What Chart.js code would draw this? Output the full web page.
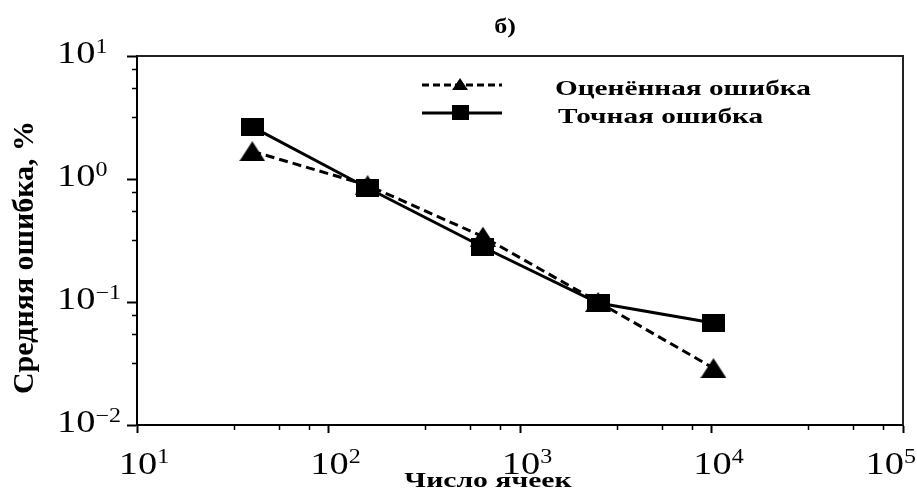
<!DOCTYPE html>
<html>
<head>
<meta charset="utf-8">
<script src="https://cdn.jsdelivr.net/npm/chart.js@4"></script>
<style>
  html, body { margin: 0; padding: 0; background: #fff; }
  canvas { display: block; }
</style>
</head>
<body>
<canvas id="myChart" width="917" height="500"></canvas>
<script>
// data
const cells = [40, 160, 640, 2560, 10240];
const estimatedError = [1.68, 0.89, 0.34, 0.1, 0.029];
const exactError = [2.65, 0.845, 0.28, 0.098, 0.0675];

const seriesLabels = ['Оценённая ошибка', 'Точная ошибка'];
const chartTitle = 'б)';
const xTitle = 'Число ячеек';
const yTitle = 'Средняя ошибка, %';

const xTickValues = [10, 100, 1000, 10000, 100000];
const xTickLabels = ['10^1', '10^2', '10^3', '10^4', '10^5'];
const yTickValues = [0.01, 0.1, 1, 10];
const yTickLabels = ['10^\u22122', '10^\u22121', '10^0', '10^1'];
const minorSteps = [3.2, 5.5, 7.9];

const SERIF = "'Liberation Serif', 'Times New Roman', serif";

function squareMarker(w, h) {
  const c = document.createElement('canvas');
  c.width = w;
  c.height = h;
  const g = c.getContext('2d');
  g.fillStyle = '#000';
  g.fillRect(0, 0, w, h);
  return c;
}

function triangleMarker(w, h) {
  const c = document.createElement('canvas');
  c.width = w;
  c.height = h;
  const g = c.getContext('2d');
  g.fillStyle = '#000';
  g.beginPath();
  g.moveTo(w / 2, 0);
  g.lineTo(w, h);
  g.lineTo(0, h);
  g.closePath();
  g.fill();
  return c;
}

const squareImg = squareMarker(23, 18);
const triangleImg = triangleMarker(26, 20);

// text is a bit wide in the original, so draw it stretched horizontally
function wideText(ctx, text, x, y, font, sx, align) {
  ctx.save();
  ctx.font = font;
  const w = ctx.measureText(text).width * sx;
  let left = x;
  if (align === 'center') left = x - w / 2;
  else if (align === 'right') left = x - w;
  ctx.translate(left, y);
  ctx.scale(sx, 1);
  ctx.textAlign = 'left';
  ctx.textBaseline = 'alphabetic';
  ctx.fillStyle = '#000';
  ctx.fillText(text, 0, 0);
  ctx.restore();
  return w;
}

function textWidth(ctx, text, font, sx) {
  ctx.save();
  ctx.font = font;
  const w = ctx.measureText(text).width * sx;
  ctx.restore();
  return w;
}

const baseFont = '32px ' + SERIF;
const expFont = '20px ' + SERIF;
const tickSx = 1.2;

const decorations = {
  id: 'decorations',
  afterDraw(chart) {
    const ctx = chart.ctx;
    const area = chart.chartArea;
    const xs = chart.scales.x;
    const ys = chart.scales.y;

    // frame top/right
    ctx.save();
    ctx.strokeStyle = '#222';
    ctx.lineWidth = 2;
    ctx.beginPath();
    ctx.moveTo(area.left, area.top);
    ctx.lineTo(area.right, area.top);
    ctx.lineTo(area.right, area.bottom);
    ctx.stroke();

    // minor ticks
    ctx.strokeStyle = '#000';
    ctx.lineWidth = 1.5;
    ctx.beginPath();
    for (let d = xs.min; d < xs.max; d *= 10) {
      minorSteps.forEach(m => {
        const px = Math.round(xs.getPixelForValue(d * m)) + 0.5;
        ctx.moveTo(px, area.bottom);
        ctx.lineTo(px, area.bottom + 5);
      });
    }
    for (let d = ys.min; d < ys.max * 0.999; d *= 10) {
      minorSteps.forEach(m => {
        const py = Math.round(ys.getPixelForValue(d * m)) + 0.5;
        ctx.moveTo(area.left, py);
        ctx.lineTo(area.left - 5, py);
      });
    }
    ctx.stroke();
    ctx.restore();

    // tick labels
    xTickValues.forEach((v, i) => {
      const [base, exp] = xTickLabels[i].split('^');
      const px = xs.getPixelForValue(v);
      const wb = textWidth(ctx, base, baseFont, tickSx);
      const we = textWidth(ctx, exp, expFont, tickSx);
      const left = Math.min(px + 1 - wb / 2, chart.width - 1 - wb - we);
      wideText(ctx, base, left, area.bottom + 49, baseFont, tickSx, 'left');
      wideText(ctx, exp, left + wb, area.bottom + 38, expFont, tickSx, 'left');
    });
    yTickValues.forEach((v, i) => {
      const [base, exp] = yTickLabels[i].split('^');
      const py = ys.getPixelForValue(v);
      const left = area.left - 80;
      const wb = wideText(ctx, base, left, py + 7, baseFont, tickSx, 'left');
      wideText(ctx, exp, left + wb, py - 3, expFont, tickSx, 'left');
    });

    // titles
    wideText(ctx, chartTitle, 505, 33, 'bold 20px ' + SERIF, 1.3, 'center');
    wideText(ctx, xTitle, (area.left + area.right) / 2 - 32, area.bottom + 62, 'bold 22px ' + SERIF, 1.35, 'center');

    ctx.save();
    ctx.translate(area.left - 104, (area.top + area.bottom) / 2 + 17);
    ctx.rotate(-Math.PI / 2);
    ctx.font = 'bold 30px ' + SERIF;
    ctx.textAlign = 'center';
    ctx.textBaseline = 'alphabetic';
    ctx.fillStyle = '#000';
    ctx.fillText(yTitle, 0, 0);
    ctx.restore();

    // legend inside the plot
    const lx = area.left + 285;
    const rows = [
      { y: area.top + 29, dash: [7, 4], img: triangleImg, w: 16, h: 12 },
      { y: area.top + 57, dash: [], img: squareImg, w: 17, h: 15 }
    ];
    rows.forEach((r, i) => {
      ctx.save();
      ctx.strokeStyle = '#000';
      ctx.lineWidth = 3;
      ctx.setLineDash(r.dash);
      ctx.beginPath();
      ctx.moveTo(lx, r.y);
      ctx.lineTo(lx + 80, r.y);
      ctx.stroke();
      ctx.setLineDash([]);
      ctx.drawImage(r.img, lx + 38 - r.w / 2, r.y - r.h / 2 - 1, r.w, r.h);
      ctx.restore();
      wideText(ctx, seriesLabels[i], lx + 133 + i * 3, r.y + 10, 'bold 22px ' + SERIF, 1.33, 'left');
    });
  }
};

const ctx = document.getElementById('myChart').getContext('2d');
const myChart = new Chart(ctx, {
  type: 'line',
  data: {
    datasets: [
      {
        label: seriesLabels[0],
        data: cells.map((x, i) => ({ x: x, y: estimatedError[i] })),
        borderColor: '#000',
        backgroundColor: '#000',
        borderWidth: 3,
        borderDash: [9, 5],
        tension: 0,
        pointStyle: triangleImg,
        pointRadius: 10,
      },
      {
        label: seriesLabels[1],
        data: cells.map((x, i) => ({ x: x, y: exactError[i] })),
        borderColor: '#000',
        backgroundColor: '#000',
        borderWidth: 3,
        tension: 0,
        pointStyle: squareImg,
        pointRadius: 10,
      },
    ],
  },
  options: {
    responsive: false,
    animation: false,
    devicePixelRatio: 1,
    layout: { padding: { top: 56, right: 14, left: 0, bottom: 0 } },
    plugins: {
      legend: { display: false },
      title: { display: false },
      tooltip: { enabled: false },
    },
    scales: {
      x: {
        type: 'logarithmic',
        min: 10,
        max: 100000,
        ticks: { display: false },
        grid: { display: true, drawOnChartArea: false, drawTicks: true, tickLength: 8, tickWidth: 2, tickColor: '#000' },
        border: { display: true, color: '#000', width: 2 },
        afterBuildTicks: scale => {
          scale.ticks = xTickValues.map(v => ({ value: v }));
        },
        afterFit: scale => {
          scale.height = 75;
          scale.paddingLeft = 0;
          scale.paddingRight = 0;
        },
      },
      y: {
        type: 'logarithmic',
        min: 0.01,
        max: 10,
        ticks: { display: false },
        grid: { display: true, drawOnChartArea: false, drawTicks: true, tickLength: 10, tickWidth: 2, tickColor: '#000' },
        border: { display: true, color: '#000', width: 2 },
        afterBuildTicks: scale => {
          scale.ticks = yTickValues.map(v => ({ value: v }));
        },
        afterFit: scale => {
          scale.width = 137;
          scale.paddingTop = 0;
          scale.paddingBottom = 0;
        },
      },
    },
  },
  plugins: [decorations],
});
</script>
</body>
</html>
